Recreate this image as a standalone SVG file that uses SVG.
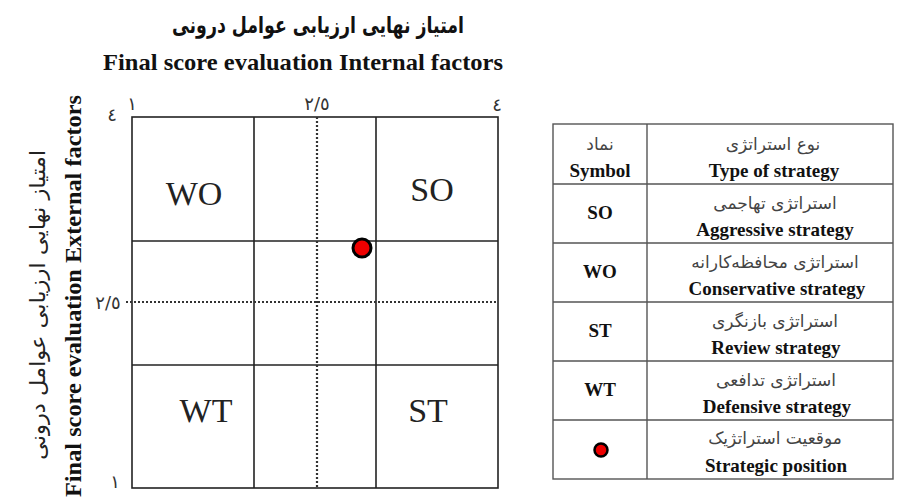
<svg xmlns="http://www.w3.org/2000/svg" width="899" height="502" viewBox="0 0 899 502">
<defs>
<style>
.fa{font-family:"DejaVu Sans",sans-serif;fill:#222}
.fab{font-family:"DejaVu Sans",sans-serif;font-weight:bold;fill:#111}
.en{font-family:"Liberation Serif","Times New Roman",serif;font-weight:bold;fill:#111}
.cell{font-family:"Liberation Serif","Times New Roman",serif;font-size:34px;fill:#222;text-anchor:middle}
.tick{font-family:"DejaVu Sans",sans-serif;font-size:18px;fill:#333;text-anchor:middle}
.grid{stroke:#222;stroke-width:1.6;fill:none}
.dot{stroke:#333;stroke-width:2.2;stroke-dasharray:2 2;fill:none}
.tb{stroke:#555;stroke-width:1.4;fill:none}
.tfa{font-family:"DejaVu Sans",sans-serif;font-size:17px;fill:#444;text-anchor:middle}
.ten{font-family:"Liberation Serif","Times New Roman",serif;font-weight:bold;font-size:19px;fill:#111;text-anchor:middle}
.pos{fill:#e00;stroke:#000}
</style>
</defs>
<rect width="899" height="502" fill="#fff"/>
<g id="titles">
<text class="fab" x="318" y="33" font-size="23" text-anchor="middle" textLength="292" lengthAdjust="spacingAndGlyphs">امتیاز نهایی ارزیابی عوامل درونی</text>
<text class="en" x="303" y="70" font-size="24" text-anchor="middle" textLength="400" lengthAdjust="spacingAndGlyphs">Final score evaluation Internal factors</text>
<text class="fa" font-size="21" text-anchor="middle" transform="translate(45,305) rotate(-90)" textLength="310" lengthAdjust="spacingAndGlyphs">امتیاز نهایی ارزیابی عوامل درونی</text>
<text class="en" font-size="24" text-anchor="middle" transform="translate(81,296) rotate(-90)" textLength="402" lengthAdjust="spacingAndGlyphs">Final score evaluation External factors</text>
</g>
<g id="ticks">
<text class="tick" x="132" y="110">١</text>
<text class="tick" x="317" y="110">٢/٥</text>
<text class="tick" x="497" y="111">٤</text>
<text class="tick" x="112" y="121">٤</text>
<text class="tick" x="108" y="309">٢/٥</text>
<text class="tick" x="115" y="488">١</text>
</g>
<g id="matrix">
<rect class="grid" x="132" y="117" width="366" height="371"/>
<line class="grid" x1="254" y1="117" x2="254" y2="488"/>
<line class="grid" x1="376" y1="117" x2="376" y2="488"/>
<line class="grid" x1="132" y1="241" x2="498" y2="241"/>
<line class="grid" x1="132" y1="365" x2="498" y2="365"/>
<line class="dot" x1="317" y1="117" x2="317" y2="488"/>
<line class="dot" x1="126" y1="302" x2="498" y2="302"/>
</g>
<g id="cell-WO"><text class="cell" x="194" y="205">WO</text></g>
<g id="cell-SO"><text class="cell" x="432" y="201">SO</text></g>
<g id="cell-WT"><text class="cell" x="206" y="422">WT</text></g>
<g id="cell-ST"><text class="cell" x="428" y="422">ST</text></g>
<g id="position"><circle class="pos" cx="362" cy="248" r="9" stroke-width="3"/></g>
<g id="legend">
<rect class="tb" x="553" y="124" width="340" height="355"/>
<line class="tb" x1="647" y1="124" x2="647" y2="479"/>
<line class="tb" x1="553" y1="184" x2="893" y2="184"/>
<line class="tb" x1="553" y1="243" x2="893" y2="243"/>
<line class="tb" x1="553" y1="302" x2="893" y2="302"/>
<line class="tb" x1="553" y1="361" x2="893" y2="361"/>
<line class="tb" x1="553" y1="420" x2="893" y2="420"/>
<text class="tfa" x="600" y="150">نماد</text>
<text class="ten" x="600" y="177">Symbol</text>
<text class="tfa" x="773" y="150">نوع استراتژی</text>
<text class="ten" x="774" y="177">Type of strategy</text>
<text class="ten" x="600" y="219">SO</text>
<text class="tfa" x="775" y="209">استراتژی تهاجمی</text>
<text class="ten" x="775" y="236">Aggressive strategy</text>
<text class="ten" x="600" y="278">WO</text>
<text class="tfa" x="775" y="268">استراتژی محافظه‌کارانه</text>
<text class="ten" x="777" y="295">Conservative strategy</text>
<text class="ten" x="600" y="337">ST</text>
<text class="tfa" x="775" y="327">استراتژی بازنگری</text>
<text class="ten" x="776" y="354">Review strategy</text>
<text class="ten" x="600" y="396">WT</text>
<text class="tfa" x="776" y="386">استراتژی تدافعی</text>
<text class="ten" x="777" y="413">Defensive strategy</text>
<circle class="pos" cx="601" cy="450" r="6.5" stroke-width="2.5"/>
<text class="tfa" x="775" y="444">موقعیت استراتژیک</text>
<text class="ten" x="776" y="472">Strategic position</text>
</g>
</svg>
